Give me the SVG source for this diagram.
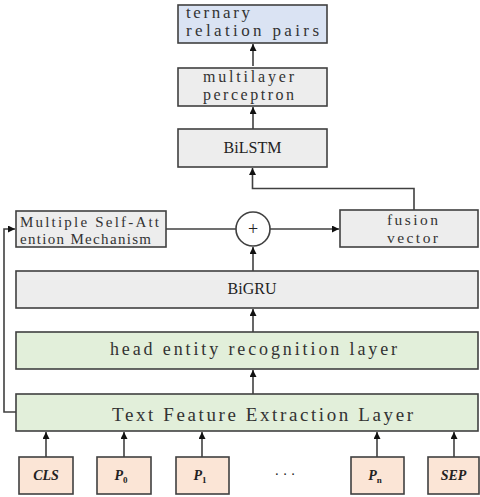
<svg xmlns="http://www.w3.org/2000/svg" width="480" height="497" viewBox="0 0 480 497">
  <defs>
    <marker id="arrow" viewBox="0 0 10 10" refX="10" refY="5" markerWidth="7" markerHeight="7" markerUnits="userSpaceOnUse" orient="auto">
      <path d="M0,0 L10,5 L0,10 z" fill="#111"/>
    </marker>
    <style>
      .box { stroke: #404040; stroke-width: 1.6; }
      .grey { fill: #ededed; }
      .blue { fill: #dae3f3; }
      .green { fill: #e2efda; }
      .peach { fill: #fbe5d6; }
      .mono { font-family: "Liberation Serif", "DejaVu Serif", serif; fill: #333; }
      .serif { font-family: "Liberation Serif", "DejaVu Serif", serif; fill: #222; }
      .tok { font-family: "Liberation Serif", "DejaVu Serif", serif; font-style: italic; font-weight: bold; fill: #222; font-size: 14px; }
      .sub { font-size: 9px; font-style: normal; }
      .link { fill: none; stroke: #404040; stroke-width: 1.6; }
    </style>
  </defs>

  <!-- connectors -->
  <g id="connectors">
    <path class="link" d="M253,66 V44" marker-end="url(#arrow)"/>
    <path class="link" d="M253,129 V107" marker-end="url(#arrow)"/>
    <path class="link" d="M414,210 V188.5 H252.5 V168" marker-end="url(#arrow)"/>
    <path class="link" d="M166,229 H236"/>
    <path class="link" d="M270,229 H339" marker-end="url(#arrow)"/>
    <path class="link" d="M253,271 V247" marker-end="url(#arrow)"/>
    <path class="link" d="M253,332 V309" marker-end="url(#arrow)"/>
    <path class="link" d="M253,394 V370" marker-end="url(#arrow)"/>
    <path class="link" d="M16,412 H4 V229 H15" marker-end="url(#arrow)"/>
    <path class="link" d="M46,457 V432" marker-end="url(#arrow)"/>
    <path class="link" d="M124,457 V432" marker-end="url(#arrow)"/>
    <path class="link" d="M202,457 V432" marker-end="url(#arrow)"/>
    <path class="link" d="M377,457 V432" marker-end="url(#arrow)"/>
    <path class="link" d="M454,457 V432" marker-end="url(#arrow)"/>
  </g>

  <g id="relation-pairs">
    <rect class="box blue" x="178" y="5" width="149" height="38"/>
    <text class="mono" font-size="17" x="186" y="18" textLength="64" lengthAdjust="spacing">ternary</text>
    <text class="mono" font-size="17" x="186" y="36" textLength="133" lengthAdjust="spacing">relation pairs</text>
  </g>

  <g id="mlp">
    <rect class="box grey" x="178" y="68" width="149" height="38"/>
    <text class="mono" font-size="16" x="203" y="82" textLength="91" lengthAdjust="spacing">multilayer</text>
    <text class="mono" font-size="16" x="203" y="99.5" textLength="91" lengthAdjust="spacing">perceptron</text>
  </g>

  <g id="bilstm">
    <rect class="box grey" x="178" y="129" width="149" height="38"/>
    <text class="serif" font-size="16" x="252.5" y="153" text-anchor="middle">BiLSTM</text>
  </g>

  <g id="self-attention">
    <rect class="box grey" x="16" y="211" width="150" height="36"/>
    <text class="mono" font-size="15" x="20" y="227" textLength="139" lengthAdjust="spacing">Multiple Self-Att</text>
    <text class="mono" font-size="15" x="20" y="244" textLength="131" lengthAdjust="spacing">ention Mechanism</text>
  </g>

  <g id="sum">
    <circle cx="253" cy="229" r="17" fill="#fff" stroke="#404040" stroke-width="1.6"/>
    <text class="serif" font-size="18" x="253" y="235" text-anchor="middle" fill="#111">+</text>
  </g>

  <g id="fusion-vector">
    <rect class="box grey" x="340" y="210" width="138" height="37"/>
    <text class="mono" font-size="15.5" x="387" y="225" textLength="51" lengthAdjust="spacing">fusion</text>
    <text class="mono" font-size="15.5" x="387" y="243" textLength="51" lengthAdjust="spacing">vector</text>
  </g>

  <g id="bigru">
    <rect class="box grey" x="16" y="271" width="462" height="37"/>
    <text class="serif" font-size="16" x="252" y="294" text-anchor="middle">BiGRU</text>
  </g>

  <g id="head-entity">
    <rect class="box green" x="16" y="332" width="462" height="37"/>
    <text class="mono" font-size="18" x="110" y="355" textLength="287" lengthAdjust="spacing">head entity recognition layer</text>
  </g>

  <g id="text-feature">
    <rect class="box green" x="16" y="394" width="462" height="37"/>
    <text class="mono" font-size="19" x="112" y="421" textLength="301" lengthAdjust="spacing">Text Feature Extraction Layer</text>
  </g>

  <g id="tok-cls">
    <rect class="box peach" x="19" y="457" width="54" height="37"/>
    <text class="tok" x="46" y="480" text-anchor="middle">CLS</text>
  </g>
  <g id="tok-p0">
    <rect class="box peach" x="97" y="457" width="54" height="37"/>
    <text class="tok" x="121" y="480" text-anchor="middle">P<tspan class="sub" dy="3">0</tspan></text>
  </g>
  <g id="tok-p1">
    <rect class="box peach" x="176" y="457" width="53" height="37"/>
    <text class="tok" x="200" y="480" text-anchor="middle">P<tspan class="sub" dy="3">1</tspan></text>
  </g>
  <g id="ellipsis">
    <text class="serif" font-size="14" x="285" y="479" text-anchor="middle" fill="#555">· · ·</text>
  </g>
  <g id="tok-pn">
    <rect class="box peach" x="351" y="457" width="53" height="37"/>
    <text class="tok" x="375" y="480" text-anchor="middle">P<tspan class="sub" dy="3">n</tspan></text>
  </g>
  <g id="tok-sep">
    <rect class="box peach" x="428" y="457" width="51" height="37"/>
    <text class="tok" x="453.5" y="480" text-anchor="middle">SEP</text>
  </g>
</svg>
